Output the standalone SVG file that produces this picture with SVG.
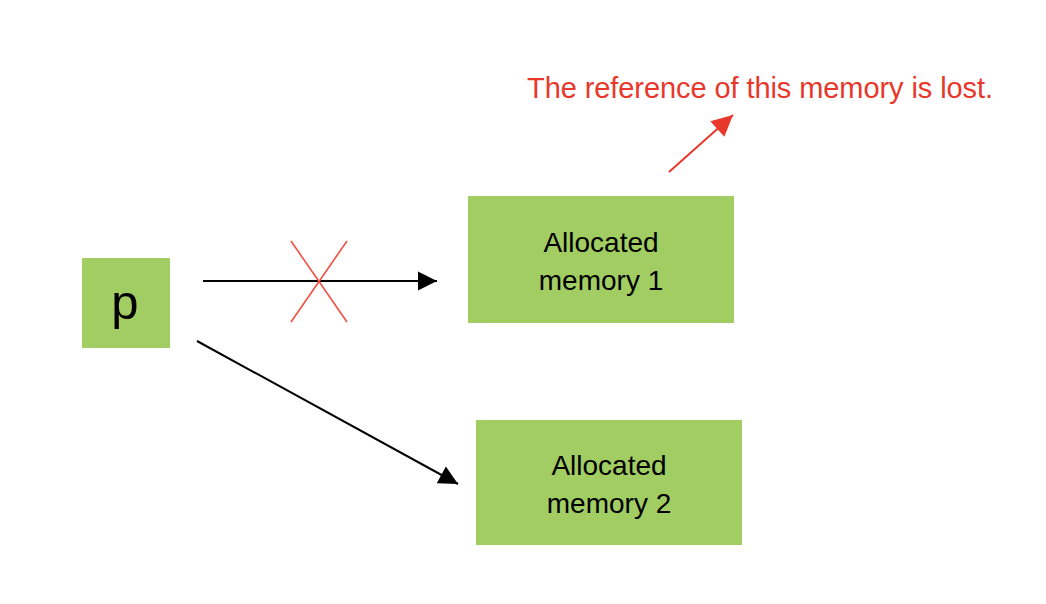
<svg xmlns="http://www.w3.org/2000/svg" width="1046" height="604" viewBox="0 0 1046 604">
<defs>
<style>
.box{fill:#A1CD63;}
.lbl{font-family:"Liberation Sans","Open Sans",sans-serif;font-size:28px;fill:#000;text-anchor:middle;}
.conn{stroke:#000;stroke-width:2;fill:none;}
.red{stroke:#E8382B;stroke-width:2;fill:none;}
</style>
<marker id="ah" markerWidth="10" markerHeight="10" viewBox="0 0 10 10" refX="10" refY="5" orient="auto" markerUnits="userSpaceOnUse" style="overflow:visible">
<path d="M0,0 L10,5 L0,10 z" fill="#000" transform="scale(1.9)" transform-origin="10 5"/>
</marker>
<marker id="ahr" markerWidth="10" markerHeight="10" viewBox="0 0 10 10" refX="10" refY="5" orient="auto" markerUnits="userSpaceOnUse" style="overflow:visible">
<path d="M0,0 L10,5 L0,10 z" fill="#E8382B" transform="scale(2.1)" transform-origin="10 5"/>
</marker>
</defs>
<rect width="1046" height="604" fill="#fff"/>
<g id="node-p">
<rect class="box" x="82" y="258" width="88" height="90"/>
<text x="125" y="319" font-family="Liberation Sans, Open Sans, sans-serif" font-size="49" text-anchor="middle" fill="#000">p</text>
</g>
<g id="node-mem1">
<rect class="box" x="468" y="196" width="266" height="127"/>
<text class="lbl" x="601" y="252">Allocated</text>
<text class="lbl" x="601" y="290">memory 1</text>
</g>
<g id="node-mem2">
<rect class="box" x="476" y="420" width="266" height="125"/>
<text class="lbl" x="609" y="475">Allocated</text>
<text class="lbl" x="609" y="513">memory 2</text>
</g>
<g id="note">
<text x="527" y="98" font-family="Liberation Sans, Open Sans, sans-serif" font-size="29" fill="#E8382B" textLength="466">The reference of this memory is lost.</text>
</g>
<g id="connectors">
<line class="conn" x1="203" y1="281" x2="437" y2="281" marker-end="url(#ah)"/>
<line class="conn" x1="197" y1="341" x2="458" y2="484" marker-end="url(#ah)"/>
<line class="red" x1="669" y1="172" x2="733" y2="115" marker-end="url(#ahr)"/>
<g id="cross" stroke="#F0503F" stroke-width="1.6">
<line x1="291" y1="241" x2="347" y2="322"/>
<line x1="291" y1="322" x2="347" y2="241"/>
</g>
</g>
</svg>
